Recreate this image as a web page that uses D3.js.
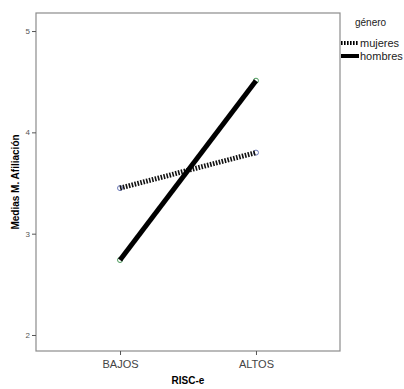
<!DOCTYPE html>
<html>
<head>
<meta charset="utf-8">
<script src="https://cdn.jsdelivr.net/npm/d3@7"></script>
<style>
body{margin:0;background:#fff;font-family:"Liberation Sans",Arial,sans-serif}
</style>
</head>
<body>
<script>
const categories=["BAJOS","ALTOS"]
const groups=["mujeres","hombres"]
const mujeres=[3.45,3.80]
const hombres=[2.74,4.51]
const yTicks=[2,3,4,5]

const w=404, h=389
const padL=36, padR=340, padT=13, padB=351

const svg=d3.select("body").append("svg")
  .attr("width",w).attr("height",h)

const x=d3.scalePoint().domain(categories).range([padL,padR]).padding(0.618)
const y=d3.scaleLinear().domain([1.842,5.178]).range([padB,padT])

// frame
svg.append("rect")
  .attr("x",padL).attr("y",padT)
  .attr("width",padR-padL).attr("height",padB-padT)
  .attr("fill","none").attr("stroke","#8c8c8c").attr("stroke-width",1.2)

const yAxis=svg.append("g")
  .attr("transform","translate("+padL+",0)")
  .call(d3.axisLeft(y).tickValues(yTicks).tickSize(4).tickPadding(2).tickFormat(d3.format("d")))
yAxis.select(".domain").remove()
yAxis.selectAll("line").attr("stroke","#555")
yAxis.selectAll("text").attr("fill","#555").style("font-size","8px").attr("font-family","Liberation Sans, Arial")

const xAxis=svg.append("g")
  .attr("transform","translate(0,"+padB+")")
  .call(d3.axisBottom(x).tickSize(4).tickPadding(5))
xAxis.select(".domain").remove()
xAxis.selectAll("line").attr("stroke","#555")
xAxis.selectAll("text").attr("fill","#444").style("font-size","11px").attr("font-family","Liberation Sans, Arial")

// axis titles
svg.append("text")
  .attr("transform","translate(19,"+((padT+padB)/2)+") rotate(-90)")
  .attr("text-anchor","middle")
  .style("font-size","10px").style("font-weight","bold")
  .text("Medias M. Afiliación")
svg.append("text")
  .attr("x",(padL+padR)/2).attr("y",384)
  .attr("text-anchor","middle")
  .style("font-size","10px").style("font-weight","bold")
  .text("RISC-e")

const line=d3.line().x((d,i)=>x(categories[i])).y(d=>y(d))

// markers under the lines
svg.selectAll(".pm").data(mujeres).enter().append("circle")
  .attr("cx",(d,i)=>x(categories[i])).attr("cy",d=>y(d)).attr("r",2.5)
  .attr("fill","#fff").attr("stroke","#6a78b8").attr("stroke-width",1)
svg.selectAll(".ph").data(hombres).enter().append("circle")
  .attr("cx",(d,i)=>x(categories[i])).attr("cy",d=>y(d)).attr("r",2.5)
  .attr("fill","#fff").attr("stroke","#4a9a5a").attr("stroke-width",1)

svg.append("path").datum(mujeres)
  .attr("d",line).attr("fill","none")
  .attr("stroke","#111").attr("stroke-width",5)
  .attr("stroke-dasharray","1.6,1.4")
svg.append("path").datum(hombres)
  .attr("d",line).attr("fill","none")
  .attr("stroke","#000").attr("stroke-width",5)

// legend
svg.append("text")
  .attr("x",355).attr("y",26)
  .style("font-size","10px").attr("fill","#222")
  .text("género")
const leg=svg.selectAll(".leg").data(groups).enter().append("g")
  .attr("transform",(d,i)=>"translate(341,"+(43+i*13)+")")
leg.append("line")
  .attr("x1",0).attr("x2",18).attr("y1",0).attr("y2",0)
  .attr("stroke","#000").attr("stroke-width",4)
  .attr("stroke-dasharray",d=>d=="mujeres"?"1.6,1.4":null)
leg.append("text")
  .attr("x",19).attr("y",4)
  .style("font-size","11px").attr("fill","#222")
  .text(d=>d)
</script>
</body>
</html>
